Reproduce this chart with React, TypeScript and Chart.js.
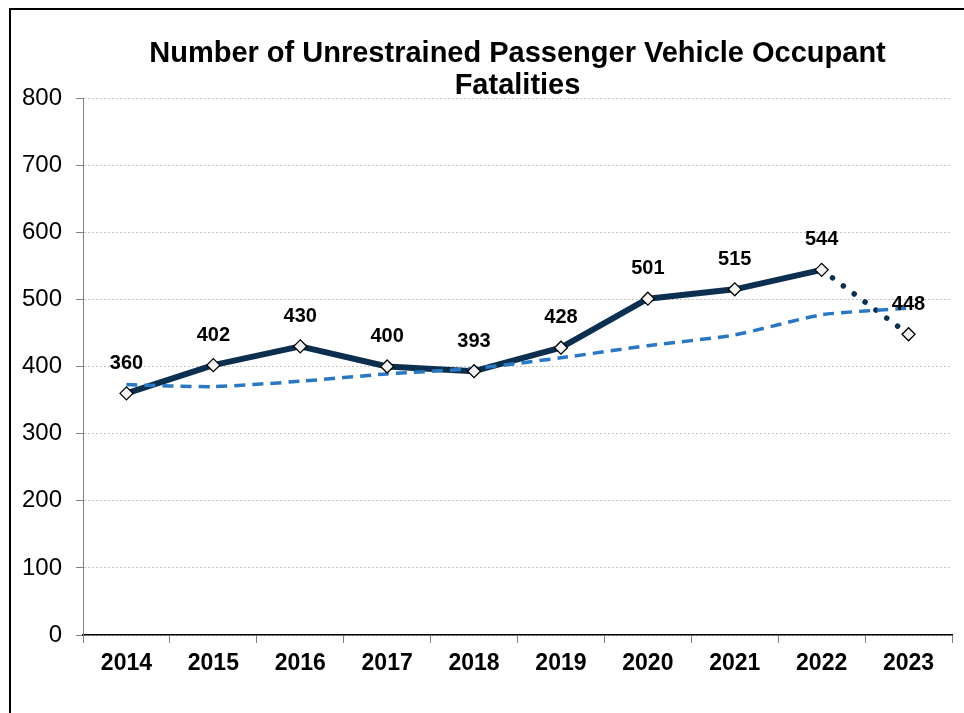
import React, { useEffect, useRef } from "react";
import { Chart, registerables } from "chart.js";

Chart.register(...registerables);

const years = ["2014", "2015", "2016", "2017", "2018", "2019", "2020", "2021", "2022", "2023"];
const fatalities = [360, 402, 430, 400, 393, 428, 501, 515, 544, 448];
const trend = [373, 370, 378, 389, 397, 413, 431, 447, 477, 487];
const titleLines = ["Number of Unrestrained Passenger Vehicle Occupant", "Fatalities"];

const FONT = '"Liberation Sans", Arial, sans-serif';

const labelPlugin = {
  id: "pointValueLabels",
  afterDatasetsDraw(chart: any) {
    const meta = chart.getDatasetMeta(0);
    const ctx = chart.ctx;
    ctx.save();
    ctx.font = `bold 20px ${FONT}`;
    ctx.fillStyle = "#000";
    ctx.textAlign = "center";
    ctx.textBaseline = "middle";
    meta.data.forEach((pt: any, i: number) => {
      ctx.fillText(String(fatalities[i]), pt.x, pt.y - 30);
    });
    ctx.restore();
  },
};

export default function App() {
  const ref = useRef<HTMLCanvasElement>(null);
  useEffect(() => {
    if (!ref.current) return;
    const isLast = (ctx: any) => ctx.p1DataIndex === fatalities.length - 1;
    const chart = new Chart(ref.current, {
      type: "line",
      data: {
        labels: years,
        datasets: [
          {
            label: "Fatalities",
            data: fatalities,
            borderColor: "#0c2f4f",
            borderWidth: 6,
            pointRadius: 0,
            borderCapStyle: "round",
            borderJoinStyle: "round",
            tension: 0,
            order: 3,
            segment: {
              borderDash: (ctx: any) => (isLast(ctx) ? [0.01, 13.5] : undefined),
              borderWidth: (ctx: any) => (isLast(ctx) ? 5.5 : undefined),
            },
          },
          {
            label: "Trend",
            data: trend,
            borderColor: "#2a78c2",
            borderWidth: 3.5,
            borderDash: [11, 7],
            pointRadius: 0,
            tension: 0.2,
            order: 2,
          },
          {
            label: "Markers",
            data: fatalities,
            showLine: false,
            pointStyle: "rectRot",
            pointRadius: 6.5,
            pointBackgroundColor: "#f2f2f2",
            pointBorderColor: "#000",
            pointBorderWidth: 1.3,
            order: 1,
          },
        ],
      },
      options: {
        responsive: false,
        animation: false,
        layout: { padding: { left: 0, right: 12, top: 0, bottom: 0 } },
        plugins: {
          legend: { display: false },
          tooltip: { enabled: false },
          title: {
            display: true,
            text: titleLines,
            fullSize: false,
            color: "#000",
            font: { family: FONT, size: 29, weight: "bold", lineHeight: "32px" } as any,
            padding: { top: 38, bottom: -4 },
          },
        },
        scales: {
          x: {
            offset: true,
            grid: {
              offset: true,
              drawOnChartArea: false,
              drawTicks: true,
              tickLength: 8,
              tickColor: "#808080",
              color: "#808080",
            },
            border: { display: true, color: "#000", width: 1.5 },
            ticks: {
              color: "#000",
              font: { family: FONT, size: 23, weight: "bold" },
              padding: 7,
              maxRotation: 0,
              autoSkip: false,
            },
            afterFit: (scale: any) => {
              scale.height = 78;
            },
          },
          y: {
            min: 0,
            max: 800,
            ticks: {
              stepSize: 100,
              color: "#000",
              font: { family: FONT, size: 24 },
              padding: 14,
            },
            grid: {
              color: "#c4c4c4",
              lineWidth: 1,
              tickLength: 7,
              tickColor: "#808080",
            },
            border: { display: true, color: "#808080", width: 1, dash: [2, 2] },
            afterFit: (scale: any) => {
              scale.width = 83;
            },
          },
        },
      },
      plugins: [labelPlugin],
    } as any);
    return () => chart.destroy();
  }, []);

  return (
    <div style={{ position: "fixed", left: 0, top: 0, width: 964, height: 713, overflow: "hidden", background: "#fff" }}>
      <div
        style={{
          position: "absolute",
          left: 9,
          top: 8,
          width: 2000,
          height: 2000,
          borderLeft: "2px solid #000",
          borderTop: "2px solid #000",
        }}
      />
      <canvas ref={ref} width={964} height={713} style={{ position: "absolute", left: 0, top: 0, width: 964, height: 713 }} />
    </div>
  );
}
